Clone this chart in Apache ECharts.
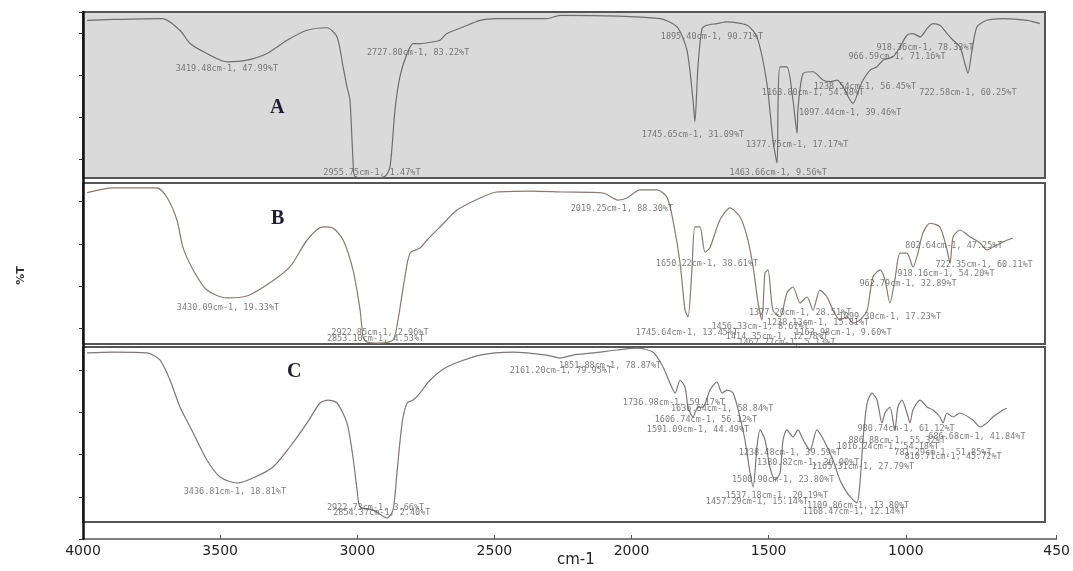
<!DOCTYPE html>
<html><head><meta charset="utf-8">
<script src="https://cdn.jsdelivr.net/npm/echarts@6/dist/echarts.min.js"></script>
<style>html,body{margin:0;padding:0;background:#fff}#c{width:1073px;height:571px}</style>
</head><body><div id="c"></div>
<script>
// wavenumber tick labels of the shared bottom axis
const xTicks = [4000, 3500, 3000, 2500, 2000, 1500, 1000, 450];
const panelNames = ['A', 'B', 'C'];

// Spectrum A  [wavenumber cm-1, relative %T within panel]
const specA = [[3985,95],[3890,95.5],[3710,96],[3647,89],[3610,81],[3549,75],[3476,70],[3403,71],[3330,75],[3257,83],[3184,89],[3112,90.5],[3075,85],[3053,67],[3039,55],[3028,47],[3017,11],[3010,1],[2950,0],[2900,1],[2882,7],[2864,41],[2846,61],[2820,75],[2798,81],[2773,81],[2726,82],[2700,83],[2675,87],[2616,91],[2554,95],[2493,96],[2311,96],[2263,98],[1899,96],[1837,91],[1801,77],[1779,47],[1772,34],[1761,67],[1746,90],[1728,92],[1692,93],[1655,94],[1582,92],[1546,85],[1510,57],[1488,23],[1473,9],[1469,47],[1462,67],[1437,67],[1415,47],[1400,27],[1397,41],[1378,63],[1342,64],[1306,59],[1280,58],[1255,59],[1233,55],[1207,47],[1196,45],[1171,55],[1160,59],[1134,65],[1109,67],[1087,71],[1051,73],[1025,79],[1000,86],[978,87],[952,85],[927,90],[905,93],[880,92],[854,87],[832,83],[807,79],[789,69],[778,63],[763,77],[745,91],[709,95],[650,96],[563,95],[516,93]];

// Spectrum B
const specB = [[3985,94],[3891,97],[3731,97],[3694,91],[3658,77],[3636,60],[3599,46],[3549,33.5],[3476,28.6],[3403,29.8],[3319,38],[3246,48],[3184,64.6],[3126,72.7],[3090,72],[3053,64.6],[3017,46],[2991,21],[2980,4.3],[2966,1.2],[2920,0.5],[2871,2.5],[2853,15],[2828,41.6],[2809,56.5],[2773,59.6],[2747,64.6],[2700,72.7],[2638,83.2],[2554,90.7],[2493,94.4],[2372,95],[2252,94.4],[2107,93.8],[2052,89.4],[2019,90.7],[1972,95.7],[1910,95.7],[1874,91.3],[1852,77],[1826,50.3],[1808,21],[1797,16.8],[1783,46],[1772,72.7],[1754,72.7],[1735,57],[1717,60],[1681,77],[1644,84.5],[1608,79],[1582,66.5],[1560,47.8],[1542,25.5],[1528,15],[1517,44],[1506,46],[1488,21],[1462,16.8],[1437,31.7],[1415,35.4],[1389,25.5],[1364,29.2],[1342,21],[1317,33.5],[1291,29.2],[1269,21],[1244,15],[1218,16.8],[1196,13],[1171,15],[1145,21],[1124,41.6],[1098,46],[1080,39.8],[1062,25.5],[1044,39.8],[1025,56.5],[1000,56.5],[978,47.8],[960,56.5],[942,69],[916,75],[880,72.7],[854,58.4],[843,50.3],[832,66.5],[807,70.8],[770,66.5],[734,62.7],[709,58.4],[687,60.2],[650,63.4],[614,65.8]];

// Spectrum C
const specC = [[3985,96.6],[3891,97.1],[3767,96.6],[3720,92.6],[3683,81],[3647,65.7],[3599,51],[3549,35.4],[3501,25.7],[3439,22.3],[3381,25.1],[3308,31.4],[3246,43],[3184,56.6],[3137,68],[3108,69.7],[3075,68],[3039,56.6],[3017,37],[3002,18.3],[2991,8.6],[2944,6.9],[2893,2.3],[2871,6.9],[2857,28],[2838,56.6],[2820,68],[2798,69.7],[2773,73.7],[2737,81],[2675,88.6],[2554,95.4],[2434,97.1],[2311,95.4],[2263,93.7],[2216,95.4],[2143,96.6],[2056,98.3],[1983,99.4],[1925,97.1],[1888,88.6],[1863,79.4],[1844,73.7],[1826,81],[1808,77],[1797,65.7],[1779,60],[1761,65.7],[1743,65.7],[1717,75.4],[1692,80],[1673,73.7],[1655,75.4],[1633,73.7],[1608,60],[1590,47],[1571,28],[1560,20],[1546,43],[1535,52.6],[1517,47],[1499,31.4],[1480,24],[1462,28],[1451,47],[1437,52.6],[1415,48.6],[1397,52.6],[1378,47],[1353,41],[1328,52.6],[1309,48.6],[1291,43],[1269,35.4],[1244,24],[1218,16.6],[1196,12.6],[1182,10.9],[1171,22.3],[1160,47],[1145,68],[1127,73.7],[1109,69.7],[1091,56.6],[1080,62.3],[1062,65.7],[1044,52.6],[1033,65.7],[1018,69.7],[1000,62.3],[989,56.6],[978,64],[952,69.7],[927,65.7],[905,64],[880,60],[869,56.6],[854,62.3],[832,60],[807,62.3],[760,58.3],[734,54.3],[709,56.6],[687,60],[650,64],[636,65]];

// Peak annotations [wavenumber, %T position, text]
const annA = [[3476,65.7,'3419.48cm-1, 47.99%T'],[2780,75.3,'2727.80cm-1, 83.22%T'],[2948,3,'2955.75cm-1, 1.47%T'],[1710,84.9,'1895.40cm-1, 90.71%T'],[1779,25.9,'1745.65cm-1, 31.09%T'],[1400,19.9,'1377.75cm-1, 17.17%T'],[1469,3,'1463.66cm-1, 9.56%T'],[1153,54.8,'1238.54cm-1, 56.45%T'],[1342,51.2,'1163.80cm-1, 54.88%T'],[778,51.2,'722.58cm-1, 60.25%T'],[1207,39.2,'1097.44cm-1, 39.46%T'],[934,78.3,'918.36cm-1, 78.33%T'],[1036,72.9,'966.59cm-1, 71.16%T']];
const annB = [[3472,22.4,'3430.09cm-1, 19.33%T'],[2919,7,'2922.85cm-1, 2.96%T'],[2935,3,'2853.10cm-1, 4.53%T'],[2038,83.9,'2019.25cm-1, 88.30%T'],[1728,49.7,'1650.22cm-1, 38.61%T'],[829,60.9,'802.64cm-1, 47.25%T'],[719,49.1,'722.35cm-1, 60.11%T'],[858,43.5,'918.16cm-1, 54.20%T'],[996,37.3,'962.79cm-1, 32.89%T'],[1062,16.8,'1099.30cm-1, 17.23%T'],[1389,19.3,'1377.20cm-1, 28.51%T'],[1324,13,'1238.13cm-1, 15.81%T'],[1535,10.6,'1456.33cm-1, 8.67%T'],[1801,6.8,'1745.64cm-1, 13.45%T'],[1233,6.8,'1163.98cm-1, 9.60%T'],[1473,4.3,'1414.35cm-1, 12.78%T'],[1437,0.6,'1462.77cm-1, 5.13%T']];
const annC = [[3447,17.1,'3436.81cm-1, 18.81%T'],[2935,8,'2922.73cm-1, 3.66%T'],[2912,5,'2854.37cm-1, 2.40%T'],[2081,89.1,'1851.88cm-1, 78.87%T'],[2260,86.3,'2161.20cm-1, 79.95%T'],[1848,68,'1736.98cm-1, 59.17%T'],[1673,64.6,'1636.64cm-1, 58.84%T'],[1732,58.3,'1606.74cm-1, 56.12%T'],[1761,52.6,'1591.09cm-1, 44.49%T'],[1003,53.1,'980.74cm-1, 61.12%T'],[745,48.6,'686.68cm-1, 41.84%T'],[1036,46.3,'886.88cm-1, 55.32%T'],[1069,42.9,'1016.24cm-1, 54.18%T'],[1426,39.4,'1238.48cm-1, 39.59%T'],[869,39.4,'781.29cm-1, 51.85%T'],[832,37.1,'810.71cm-1, 45.72%T'],[1360,33.7,'1380.82cm-1, 36.00%T'],[1160,31.4,'1165.31cm-1, 27.79%T'],[1451,24,'1500.90cm-1, 23.80%T'],[1473,14.9,'1537.18cm-1, 20.19%T'],[1546,11.4,'1457.29cm-1, 15.14%T'],[1178,9.1,'1109.86cm-1, 13.80%T'],[1193,5.7,'1168.47cm-1, 12.14%T']];

const specs = [specA, specB, specC];
const anns = [annA, annB, annC];

// layout
const AX_L = 83, AX_W = 975;            // full axis 4000 -> 450
const PX_PER = AX_W / (4000 - 450);
const PANEL_W = 962;                     // panel frames end before the 450 tick
const PANEL_MIN = 4000 - PANEL_W / PX_PER;
const panelBoxes = [
  {top: 12, height: 166, bg: '#dadada'},
  {top: 183, height: 161, bg: '#ffffff'},
  {top: 347, height: 175, bg: '#ffffff'}
];
const lineColors = ['#6e6e6e', '#857a76', '#7d7676'];

const grid = panelBoxes.map(p => ({
  left: AX_L, width: PANEL_W, top: p.top, height: p.height,
  show: true, backgroundColor: p.bg, borderColor: '#555', borderWidth: 2
}));
grid.push({left: AX_L, width: AX_W, top: 12, height: 527, show: false});

const xAxis = panelBoxes.map((p, i) => ({
  type: 'value', gridIndex: i, min: PANEL_MIN, max: 4000, inverse: true, show: false
}));
xAxis.push({
  type: 'value', gridIndex: 3, min: 450, max: 4000, inverse: true, position: 'bottom',
  axisLine: {show: true, lineStyle: {color: '#555', width: 1.5}},
  axisTick: {show: true, inside: true, length: 4, customValues: xTicks, lineStyle: {color: '#555'}},
  axisLabel: {show: true, customValues: xTicks, margin: 5, fontSize: 14, color: '#222',
    fontFamily: 'DejaVu Sans', formatter: v => String(v)},
  splitLine: {show: false}
});
const yAxis = panelBoxes.map((p, i) => ({type: 'value', gridIndex: i, min: 0, max: 100, show: false}));
yAxis.push({
  type: 'value', gridIndex: 3, min: 0, max: 100, interval: 8, z: 10,
  axisLine: {show: true, lineStyle: {color: '#111', width: 2.5}},
  axisTick: {show: true, inside: false, length: 4, lineStyle: {color: '#333'}},
  axisLabel: {show: false}, splitLine: {show: false},
  name: '%T', nameLocation: 'middle', nameGap: 56, nameRotate: 90,
  nameTextStyle: {fontSize: 11, fontWeight: 'bold', color: '#333', fontFamily: 'DejaVu Sans'}
});

const series = [];
specs.forEach((d, i) => {
  series.push({
    type: 'line', xAxisIndex: i, yAxisIndex: i, data: d, showSymbol: false,
    smooth: 0.25, lineStyle: {color: lineColors[i], width: 1.2}, z: 3
  });
  series.push({
    type: 'scatter', xAxisIndex: i, yAxisIndex: i, z: 4, symbolSize: 2,
    data: anns[i].map(a => ({value: [a[0], a[1]], name: a[2]})),
    itemStyle: {color: 'rgba(0,0,0,0)'},
    label: {show: true, position: 'inside', formatter: p => p.name,
      fontSize: 8.5, fontFamily: 'DejaVu Sans Mono', color: '#5c5c5c'},
    labelLayout: {hideOverlap: false}
  });
});

const chart = echarts.init(document.getElementById('c'), null, {renderer: 'canvas'});
chart.setOption({
  animation: false,
  backgroundColor: '#ffffff',
  grid, xAxis, yAxis, series,
  graphic: [
    {type: 'text', left: 270, top: 98, style: {text: panelNames[0], font: 'bold 20px "Liberation Serif"', fill: '#1e1e2c'}},
    {type: 'text', left: 271, top: 209, style: {text: panelNames[1], font: 'bold 20px "Liberation Serif"', fill: '#1e1e2c'}},
    {type: 'text', left: 287, top: 362, style: {text: panelNames[2], font: 'bold 20px "Liberation Serif"', fill: '#1e1e2c'}},
    {type: 'text', left: 557, top: 553, style: {text: 'cm-1', font: '15px "DejaVu Sans"', fill: '#222'}}
  ]
});
</script></body></html>
